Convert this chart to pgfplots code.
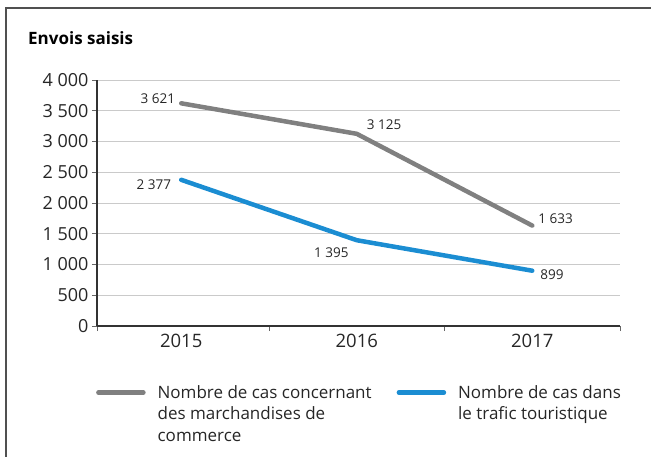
\documentclass[border=0pt]{standalone}
\usepackage{fontspec}
\setmainfont{Open Sans}
\usepackage{pgfplots}
\pgfplotsset{compat=1.18}

\definecolor{serieGris}{HTML}{808080}
\definecolor{serieBleu}{HTML}{1B8DD2}
\definecolor{grille}{HTML}{CACACA}
\definecolor{cadre}{HTML}{505050}

\begin{document}
\begin{tikzpicture}
\begin{axis}[
    name=ax, anchor=south west,
    scale only axis, width=523pt, height=246pt,
    xmin=-0.48, xmax=2.5, ymin=0, ymax=4000,
    axis lines*=left,
    axis line style={black!80, line width=1.1pt},
    xtick={0,1,2}, xticklabels={2015,2016,2017},
    minor xtick={-0.48,0.5,1.5,2.5},
    ytick={0,500,...,4000},
    ymajorgrids, grid style={grille, line width=1pt},
    tick align=outside,
    major tick length=5pt, minor tick length=5pt,
    major x tick style={draw=none},
    minor x tick style={black!60, line width=0.8pt},
    y tick style={black!60, line width=0.8pt},
    tick label style={text=black!85},
    xticklabel style={font=\fontsize{18.5}{22}\selectfont},
    yticklabel style={font=\fontsize{18}{22}\selectfont},
    /pgf/number format/.cd, 1000 sep={\ }, assume math mode=true,
    /pgfplots/.cd,
    clip=false,
    legend columns=2,
    legend style={at={(axis description cs:-0.002,-0.24)}, anchor=north west,
        draw=none, fill=none, inner sep=0pt,
        font=\fontsize{17}{21.5}\selectfont,
        nodes={inner sep=0pt, anchor=base west, text=black!85},
        /tikz/every even column/.append style={column sep=0pt}},
    legend image code/.code={\draw[#1] (2pt,5.5pt) -- (47pt,5.5pt); \path (59pt,0pt);},
]
\addplot[serieGris, line width=4.5pt, line cap=round, line join=round] coordinates {(0,3621) (1,3125) (2,1633)};
\addlegendentry{\parbox[t]{239pt}{\raggedright Nombre de cas concernant\\des marchandises de\\commerce}}
\addplot[serieBleu, line width=4.5pt, line cap=round, line join=round] coordinates {(0,2377) (1,1395) (2,899)};
\addlegendentry{\parbox[t]{180pt}{\raggedright Nombre de cas dans\\le trafic touristique}}

\begin{scope}[every node/.style={inner sep=0pt, font=\fontsize{13.5}{16}\selectfont, text=black!85}]
\node[anchor=east] at (axis cs:0,3621) [xshift=-6pt, yshift=5pt] {3 621};
\node[anchor=west] at (axis cs:1,3125) [xshift=10pt, yshift=9pt] {3 125};
\node[anchor=west] at (axis cs:2,1633) [xshift=6pt, yshift=7pt] {1 633};
\node[anchor=east] at (axis cs:0,2377) [xshift=-10pt, yshift=-5pt] {2 377};
\node[anchor=east] at (axis cs:1,1395) [xshift=-8pt, yshift=-12pt] {1 395};
\node[anchor=west] at (axis cs:2,899) [xshift=8pt, yshift=-4pt] {899};
\end{scope}
\end{axis}
% page frame, title and bounding box, measured from the axis corner (97px, 326px)
\begin{scope}[shift={(ax.south west)}, x=1pt, y=1pt]
\draw[cadre, line width=1.8pt] (-91,-132) -- (-91,318) -- (556,318);
\node[anchor=base west, inner sep=0pt, font=\fontsize{17}{20}\selectfont\bfseries] at (-69,281) {Envois saisis};
\pgfresetboundingbox
\useasboundingbox (-97,-130) rectangle (554,326);
\end{scope}
\end{tikzpicture}
\end{document}
